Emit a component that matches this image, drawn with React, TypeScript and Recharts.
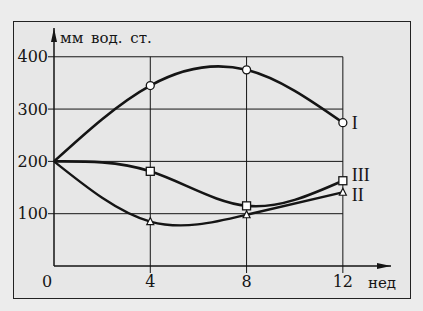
import React from "react";
import {
  LineChart,
  Line,
  XAxis,
  YAxis,
  ReferenceLine,
  ReferenceDot,
  LabelList,
} from "recharts";

const weeks = [0, 4, 8, 12];
const seriesI = [200, 345, 375, 274];
const seriesII = [200, 85, 98, 141];
const seriesIII = [200, 181, 115, 163];
const yTicks = [100, 200, 300, 400];
const xTicks = [0, 4, 8, 12];
const seriesNames = { I: "I", II: "II", III: "III" };

const data = weeks.map((w, i) => ({
  week: w,
  I: seriesI[i],
  II: seriesII[i],
  III: seriesIII[i],
}));

const INK = "#151515";
const FONT = "'DejaVu Serif', serif";

function circleDot(props: any) {
  const { cx, cy, index } = props;
  if (index === 0) return <g key={`c${index}`} />;
  return <circle key={`c${index}`} cx={cx} cy={cy} r={4} fill="#fff" stroke={INK} strokeWidth={1.3} />;
}

function squareDot(props: any) {
  const { cx, cy, index } = props;
  if (index === 0) return <g key={`s${index}`} />;
  return <rect key={`s${index}`} x={cx - 4} y={cy - 4} width={8} height={8} fill="#fff" stroke={INK} strokeWidth={1.3} />;
}

function triDot(props: any) {
  const { cx, cy, index } = props;
  if (index === 0) return <g key={`t${index}`} />;
  return (
    <path
      key={`t${index}`}
      d={`M${cx},${cy - 4} L${cx + 3.5},${cy + 3} L${cx - 3.5},${cy + 3} Z`}
      fill="#fff"
      stroke={INK}
      strokeWidth={1.2}
    />
  );
}

function endLabel(text: string, dy: number) {
  return (props: any) => {
    const { x, y, index } = props;
    if (index !== weeks.length - 1) return null;
    return (
      <text x={x + 9} y={y + dy} dominantBaseline="central" fontFamily="'Liberation Serif', serif" fontSize={18} fill={INK}>
        {text}
      </text>
    );
  };
}

// ticks drawn by hand: tickSize/tickMargin are 0 so x,y sit on the axis line
function XTick(props: any) {
  const { x, y, payload } = props;
  const v = payload.value;
  return (
    <g>
      {v > 0 && <line x1={x} y1={y} x2={x} y2={y + 7} stroke={INK} strokeWidth={1} />}
      <text x={v === 0 ? x - 7 : x} y={y + 15} textAnchor="middle" dominantBaseline="central" fontFamily={FONT} fontSize={16} fill={INK}>
        {v}
      </text>
    </g>
  );
}

function YTick(props: any) {
  const { x, y, payload } = props;
  return (
    <g>
      <line x1={x - 6} y1={y} x2={x} y2={y} stroke={INK} strokeWidth={1} />
      <text x={x - 6} y={y} textAnchor="end" dominantBaseline="central" fontFamily={FONT} fontSize={16} fill={INK}>
        {payload.value}
      </text>
    </g>
  );
}

export default function App() {
  return (
    <div style={{ position: "absolute", left: 0, top: 0, width: 423, height: 311, background: "#ececec" }}>
      <div
        style={{
          position: "absolute",
          left: 13,
          top: 21,
          width: 398,
          height: 278,
          border: "1.5px solid #222",
          boxSizing: "border-box",
          background: "#e7e7e7",
        }}
      />
      <div style={{ position: "absolute", left: 0, top: 0 }}>
        <LineChart width={423} height={311} data={data} margin={{ top: 28, right: 32, bottom: 15, left: 14 }}>
          <XAxis
            type="number"
            dataKey="week"
            domain={[0, 14]}
            ticks={xTicks}
            tickSize={0}
            tickMargin={0}
            tickLine={false}
            height={30}
            axisLine={{ stroke: INK, strokeWidth: 1.5 }}
            tick={<XTick />}
          />
          <YAxis
            type="number"
            domain={[0, 455]}
            ticks={yTicks}
            tickSize={0}
            tickMargin={0}
            tickLine={false}
            width={40}
            axisLine={{ stroke: INK, strokeWidth: 1.5 }}
            tick={<YTick />}
          />
          {yTicks.map((t) => (
            <ReferenceLine key={`h${t}`} segment={[{ x: 0, y: t }, { x: 12, y: t }]} stroke={INK} strokeWidth={1} ifOverflow="visible" />
          ))}
          {xTicks.slice(1).map((t) => (
            <ReferenceLine key={`v${t}`} segment={[{ x: t, y: 0 }, { x: t, y: 400 }]} stroke={INK} strokeWidth={1} ifOverflow="visible" />
          ))}
          <ReferenceDot
            x={0}
            y={455}
            ifOverflow="visible"
            shape={(p: any) => <path d={`M${p.cx},${p.cy} L${p.cx + 3},${p.cy + 14} L${p.cx - 3},${p.cy + 14} Z`} fill={INK} />}
          />
          <ReferenceDot
            x={14}
            y={0}
            ifOverflow="visible"
            shape={(p: any) => <path d={`M${p.cx},${p.cy} L${p.cx - 14},${p.cy - 3} L${p.cx - 14},${p.cy + 3} Z`} fill={INK} />}
          />
          <Line type="natural" dataKey="I" stroke={INK} strokeWidth={2.6} dot={circleDot} activeDot={false} isAnimationActive={false}>
            <LabelList dataKey="I" content={endLabel(seriesNames.I, 0)} />
          </Line>
          <Line type="natural" dataKey="III" stroke={INK} strokeWidth={2.6} dot={squareDot} activeDot={false} isAnimationActive={false}>
            <LabelList dataKey="III" content={endLabel(seriesNames.III, -6)} />
          </Line>
          <Line type="natural" dataKey="II" stroke={INK} strokeWidth={2.4} dot={triDot} activeDot={false} isAnimationActive={false}>
            <LabelList dataKey="II" content={endLabel(seriesNames.II, 3)} />
          </Line>
        </LineChart>
      </div>
      <div style={{ position: "absolute", left: 60, top: 29, fontFamily: FONT, fontSize: 15, color: INK, wordSpacing: 3, whiteSpace: "nowrap" }}>
        мм вод. ст.
      </div>
      <div style={{ position: "absolute", left: 368, top: 274, fontFamily: FONT, fontSize: 15, color: INK, whiteSpace: "nowrap" }}>
        нед
      </div>
    </div>
  );
}
